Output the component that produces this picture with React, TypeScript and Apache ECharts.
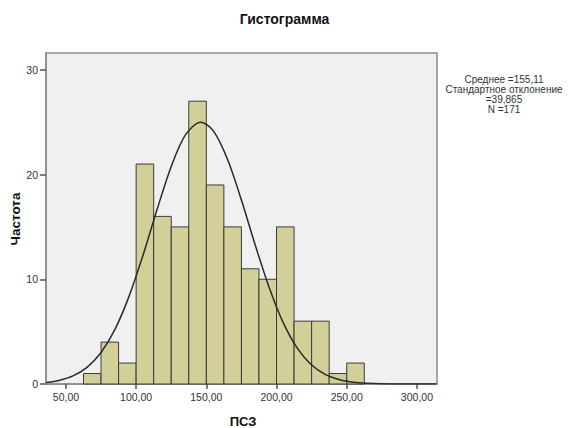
import React, { useEffect, useRef } from "react";
import * as echarts from "echarts";

// Histogram bins (ПСЗ) and their frequencies
const binEdges = [62.5, 75, 87.5, 100, 112.5, 125, 137.5, 150, 162.5, 175, 187.5, 200, 212.5, 225, 237.5, 250, 262.5];
const counts = [1, 4, 2, 21, 16, 15, 27, 19, 15, 11, 10, 15, 6, 6, 1, 2];

// Fitted normal curve, sampled along the axis
const curveX = [36, 45, 55, 65, 75, 85, 95, 105, 115, 125, 135, 146, 155, 165, 175, 185, 195, 205, 215, 225, 235, 245, 255, 265, 275, 290, 314];
const curveY = [0.15, 0.34, 0.77, 1.59, 3.01, 5.24, 8.39, 12.34, 16.7, 20.77, 23.76, 25, 24.17, 21.48, 17.56, 13.19, 9.12, 5.79, 3.38, 1.82, 0.9, 0.41, 0.17, 0.07, 0.02, 0.0, 0.0];

const xTicks = [50, 100, 150, 200, 250, 300];
const yTicks = [0, 10, 20, 30];

const statsLines = ["Среднее =155,11", "Стандартное отклонение", "=39,865", "N =171"];

const FONT = "Arial, 'Liberation Sans', sans-serif";

export default function App() {
  const ref = useRef<HTMLDivElement>(null);

  useEffect(() => {
    document.body.style.margin = "0";
    const chart = echarts.init(ref.current!, null, { renderer: "svg" });

    const barData = counts.map((c, i) => [binEdges[i], binEdges[i + 1], c]);
    const curveData = curveX.map((x, i) => [x, curveY[i]]);

    chart.setOption({
      animation: false,
      backgroundColor: "#ffffff",
      title: {
        text: "Гистограмма",
        left: "center",
        top: 7,
        textStyle: { fontFamily: FONT, fontSize: 14, fontWeight: "bold", color: "#111" },
      },
      grid: {
        left: 46,
        right: 132,
        top: 53,
        bottom: 44,
        show: true,
        backgroundColor: "#f0f0f0",
        borderColor: "#8c8c8c",
        borderWidth: 1.5,
      },
      xAxis: {
        type: "value",
        min: 35.8,
        max: 314.3,
        axisLine: { show: true, lineStyle: { color: "#8c8c8c", width: 1.5 } },
        axisTick: { show: true, length: 5, customValues: xTicks, lineStyle: { color: "#555", width: 1.5 } },
        axisLabel: {
          customValues: xTicks,
          margin: 7,
          fontFamily: FONT,
          fontSize: 10.5,
          color: "#333",
          formatter: (v: number) => v.toFixed(2).replace(".", ","),
        },
        splitLine: { show: false },
      },
      yAxis: {
        type: "value",
        min: 0,
        max: 31.6,
        axisLine: { show: true, lineStyle: { color: "#8c8c8c", width: 1.5 } },
        axisTick: { show: true, length: 6, customValues: yTicks, lineStyle: { color: "#555", width: 1.5 } },
        axisLabel: {
          customValues: yTicks,
          margin: 8,
          fontFamily: FONT,
          fontSize: 10.5,
          color: "#333",
        },
        splitLine: { show: false },
      },
      graphic: [
        {
          type: "text",
          x: 243,
          y: 421,
          style: {
            text: "ПСЗ",
            fontFamily: FONT,
            fontSize: 13,
            fontWeight: "bold",
            fill: "#111",
            align: "center",
            verticalAlign: "middle",
          },
        },
        {
          type: "text",
          x: 15,
          y: 219,
          rotation: Math.PI / 2,
          style: {
            text: "Частота",
            fontFamily: FONT,
            fontSize: 13.5,
            fontWeight: "bold",
            fill: "#111",
            align: "center",
            verticalAlign: "middle",
          },
        },
        {
          type: "text",
          x: 504,
          y: 74,
          style: {
            text: statsLines.join("\n"),
            fontFamily: FONT,
            fontSize: 10,
            lineHeight: 10,
            fill: "#333",
            align: "center",
            verticalAlign: "top",
          },
        },
      ],
      series: [
        {
          type: "custom",
          z: 2,
          encode: { x: [0, 1], y: 2 },
          data: barData,
          renderItem: (_params: any, api: any) => {
            const p0 = api.coord([api.value(0), api.value(2)]);
            const p1 = api.coord([api.value(1), 0]);
            return {
              type: "rect",
              shape: { x: p0[0], y: p0[1], width: p1[0] - p0[0], height: p1[1] - p0[1] },
              style: { fill: "#d3cf98", stroke: "#3a3a3a", lineWidth: 1 },
            };
          },
        },
        {
          type: "line",
          z: 3,
          data: curveData,
          smooth: 0.3,
          showSymbol: false,
          symbol: "none",
          lineStyle: { color: "#2a2a2a", width: 1.5 },
        },
      ],
    });

    return () => chart.dispose();
  }, []);

  return <div ref={ref} style={{ width: 569, height: 428 }} />;
}
